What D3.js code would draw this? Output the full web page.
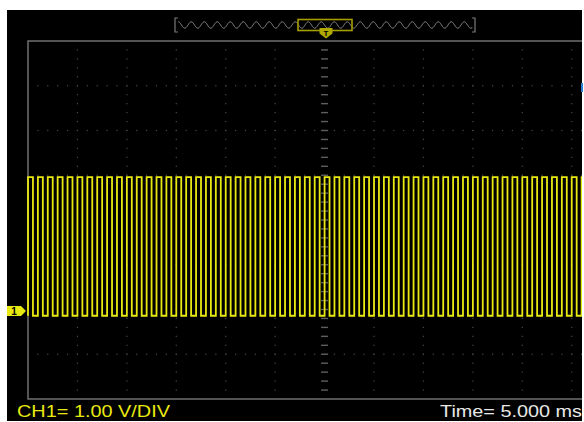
<!DOCTYPE html>
<html lang="en">
<head>
    <meta charset="UTF-8">
    <title>Scope capture</title>
    <script src="https://d3js.org/d3.v7.min.js"></script>
    <style>
        html, body { margin: 0; padding: 0; background: #fff; }
        svg { display: block; }
    </style>
</head>
<body>
<svg width="584" height="422"></svg>
<script>

    // waveform: rising edges in ms (trigger at 0), levels in volts
    const risingEdgesMs = [-30, -29, -28, -27, -26, -25, -24, -23, -22, -21,
                           -20, -19, -18, -17, -16, -15, -14, -13, -12, -11,
                           -10, -9, -8, -7, -6, -5, -4, -3, -2, -1,
                           0, 1, 2, 3, 4, 5, 6, 7, 8, 9,
                           10, 11, 12, 13, 14, 15, 16, 17, 18, 19,
                           20, 21, 22, 23, 24, 25, 26];
    const pulseWidthMs = 0.5;
    const highV = 2.96, lowV = -0.14;

    const timeDomain = [-30, 30];   // 12 div x 5 ms
    const voltDomain = [-2, 6];     // 8 div x 1 V, ground 2 div below centre
    const labels = { ch: "CH1= 1.00 V/DIV", time: "Time= 5.000 ms", gnd: "1", trig: "T" };

    const gridL = 28, gridT = 41, divW = 49.43, divH = 44.75;
    const gridR = gridL + 12 * divW, gridB = gridT + 8 * divH;

    const x = d3.scaleLinear().domain(timeDomain).range([gridL, gridR]);
    const y = d3.scaleLinear().domain(voltDomain).range([gridB, gridT]);

    const yellow = "#e9e912";
    const svg = d3.select("svg");

    svg.append("rect").attr("x", 7).attr("y", 10).attr("width", 575).attr("height", 411).attr("fill", "#000");

    svg.append("clipPath").attr("id", "scr")
        .append("rect").attr("x", 7).attr("y", 10).attr("width", 575).attr("height", 411);

    const g = svg.append("g").attr("clip-path", "url(#scr)");

    // dotted grid
    const dotColor = "#4a4a4a";
    const vTicks = d3.range(1, 12).map(i => timeDomain[0] + i * 5).filter(t => t !== 0);
    const hTicks = d3.range(1, 8).map(i => voltDomain[0] + i).filter(v => v !== 2);
    const minorV = d3.range(1, 40).map(i => voltDomain[0] + i / 5);
    const minorT = d3.range(1, 60).map(i => timeDomain[0] + i);

    vTicks.forEach(t => {
        g.append("g").selectAll("rect").data(minorV).join("rect")
            .attr("x", x(t) - 0.6).attr("y", d => y(d) - 0.6)
            .attr("width", 1.2).attr("height", 1.2).attr("fill", dotColor);
    });
    hTicks.forEach(v => {
        g.append("g").selectAll("rect").data(minorT).join("rect")
            .attr("x", d => x(d) - 0.6).attr("y", y(v) - 0.6)
            .attr("width", 1.2).attr("height", 1.2).attr("fill", dotColor);
    });

    // centre vertical axis with small dashes
    g.append("g").selectAll("rect").data(minorV).join("rect")
        .attr("x", x(0) - 3.5).attr("y", d => y(d) - 0.7)
        .attr("width", 7).attr("height", 1.4).attr("fill", "#5e5e5e");

    // frame
    g.append("rect")
        .attr("x", gridL).attr("y", gridT)
        .attr("width", gridR - gridL).attr("height", gridB - gridT)
        .attr("fill", "none").attr("stroke", "#707070").attr("stroke-width", 1.5);

    // square wave
    const pts = [];
    risingEdgesMs.forEach(r => {
        const f = r + pulseWidthMs;
        pts.push([r, lowV], [r, highV], [f, highV], [f, lowV]);
    });
    const line = d3.line().x(d => x(d[0])).y(d => y(d[1]));
    g.append("path")
        .attr("d", line(pts))
        .attr("fill", "none")
        .attr("stroke", yellow)
        .attr("stroke-width", 1.8);

    // ground marker
    const gy = y(0) + 1.5;
    svg.append("path")
        .attr("d", `M7,${gy - 5}H21L26,${gy}L21,${gy + 5}H7Z`)
        .attr("fill", yellow);
    svg.append("text")
        .attr("x", 14).attr("y", gy + 3.5)
        .attr("text-anchor", "middle")
        .attr("font-family", "Liberation Sans, Arial, sans-serif")
        .attr("font-weight", "bold").attr("font-size", 10)
        .attr("fill", "#000").text(labels.gnd);

    // trigger level sliver on the right
    svg.append("rect").attr("x", 581).attr("y", 83).attr("width", 2).attr("height", 9).attr("fill", "#2c7fd0");

    // memory bar at top
    const barL = 175, barR = 475, barY = 25;
    svg.append("path")
        .attr("d", `M${barL + 3},18H${barL}V32H${barL + 3}M${barR - 3},18H${barR}V32H${barR - 3}`)
        .attr("fill", "none").attr("stroke", "#7a7a7a").attr("stroke-width", 1.2);
    const zig = d3.range(barL + 3, barR - 2, 0.5).map(px => [px, barY - 3.2 * Math.sin((px - barL) / 13 * 2 * Math.PI)]);
    svg.append("path")
        .attr("d", d3.line()(zig))
        .attr("fill", "none").attr("stroke", "#8a8a8a").attr("stroke-width", 1);
    svg.append("rect")
        .attr("x", 298).attr("y", 19.5).attr("width", 54).attr("height", 11)
        .attr("fill", "none").attr("stroke", "#a69e00").attr("stroke-width", 1.6);
    svg.append("path")
        .attr("d", "M319.5,28H332.5V33.5L326,38.5L319.5,33.5Z")
        .attr("fill", "#b0a800");
    svg.append("text")
        .attr("x", 326).attr("y", 35.5)
        .attr("text-anchor", "middle")
        .attr("font-family", "Liberation Sans, Arial, sans-serif")
        .attr("font-weight", "bold").attr("font-size", 8)
        .attr("fill", "#000").text(labels.trig);

    // status labels
    svg.append("text")
        .attr("x", 17).attr("y", 417)
        .attr("font-family", "Liberation Sans, Arial, sans-serif")
        .attr("font-size", 16.5)
        .attr("textLength", 153).attr("lengthAdjust", "spacingAndGlyphs")
        .attr("fill", yellow).text(labels.ch);
    svg.append("text")
        .attr("x", 440).attr("y", 417)
        .attr("font-family", "Liberation Sans, Arial, sans-serif")
        .attr("font-size", 16.5)
        .attr("textLength", 142).attr("lengthAdjust", "spacingAndGlyphs")
        .attr("fill", "#e8e8e8").text(labels.time);

</script>
</body>
</html>
